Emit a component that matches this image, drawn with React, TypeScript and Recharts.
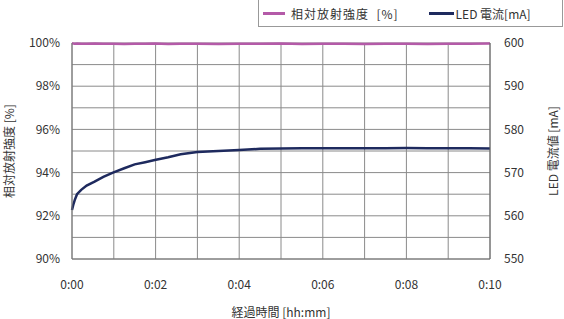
import React from 'react';
import { LineChart, Line, XAxis, YAxis, CartesianGrid } from 'recharts';

// elapsed time in minutes
const timesMin = [0, 0.03, 0.065, 0.12, 0.22, 0.35, 0.54, 0.75, 0.98, 1.25, 1.5, 1.75, 1.98, 2.3, 2.6, 3.0, 3.5, 4.0, 4.5, 5.0, 5.5, 6.0, 6.5, 7.0, 7.5, 8.0, 8.5, 9.0, 9.5, 10.0];
// relative radiant intensity [%]
const intensityPct = [99.99, 99.98, 99.97, 99.98, 99.96, 99.97, 99.98, 99.96, 99.97, 99.95, 99.97, 99.96, 99.98, 99.95, 99.97, 99.96, 99.95, 99.97, 99.96, 99.98, 99.95, 99.96, 99.97, 99.95, 99.96, 99.97, 99.95, 99.96, 99.97, 99.98];
// LED current [mA]
const currentMA = [561.35, 562.5, 563.65, 565.0, 566.0, 567.0, 567.9, 569.0, 570.0, 571.0, 571.9, 572.4, 572.9, 573.55, 574.25, 574.75, 575.0, 575.25, 575.5, 575.6, 575.62, 575.65, 575.63, 575.66, 575.65, 575.67, 575.64, 575.66, 575.65, 575.6];

const leftTicks = [90, 91, 92, 93, 94, 95, 96, 97, 98, 99, 100];
const rightTicks = [550, 560, 570, 580, 590, 600];
const xTicks = [0, 1, 2, 3, 4, 5, 6, 7, 8, 9, 10];

const seriesIntensity = '相対放射強度 [%]';
const seriesCurrent = 'LED 電流[mA]';

const data = timesMin.map((t, i) => ({ t, intensity: intensityPct[i], current: currentMA[i] }));

const FONT = '"Noto Sans CJK JP", "Noto Sans", sans-serif';
const PINK = '#b45aa8';
const NAVY = '#1e2a5e';
const TXT = '#333333';

const fmtX = (v: number) => (v % 2 === 0 ? `0:${String(v).padStart(2, '0')}` : '');
const fmtL = (v: number) => (v % 2 === 0 ? `${v}%` : '');

const LegendBox = () => (
  <div style={{ position: 'absolute', left: 258, top: 0, width: 305, height: 27, border: '1px solid #999', borderTop: 'none', boxSizing: 'border-box', display: 'flex', alignItems: 'center', fontFamily: FONT, fontSize: 12, color: TXT, whiteSpace: 'pre' }}>
    <span style={{ display: 'inline-block', width: 22, height: 3, background: PINK, marginLeft: 4, marginRight: 6 }} />
    <span style={{ letterSpacing: 1 }}>{'相対放射強度  [%]'}</span>
    <span style={{ display: 'inline-block', width: 25, height: 3, background: NAVY, marginLeft: 30, marginRight: 2 }} />
    <span>{seriesCurrent}</span>
  </div>
);

export default function App() {
  return (
    <div style={{ position: 'absolute', left: 0, top: 0, width: 564, height: 319, background: '#fff' }}>
      <LineChart width={564} height={319} data={data} margin={{ top: 43, right: 0, bottom: 0, left: 0 }}>
        <CartesianGrid stroke="#8a8a8a" strokeWidth={1} yAxisId="left" />
        <XAxis
          dataKey="t"
          type="number"
          domain={[0, 10]}
          ticks={xTicks}
          tickFormatter={fmtX}
          tickLine={false}
          tickSize={0}
          tickMargin={21}
          height={60}
          axisLine={{ stroke: '#777' }}
          tick={{ fill: TXT, fontSize: 12, fontFamily: FONT }}
          label={{ value: '経過時間 [hh:mm]', position: 'insideBottom', offset: 2, fill: TXT, fontSize: 12, fontFamily: FONT }}
        />
        <YAxis
          yAxisId="left"
          domain={[90, 100]}
          ticks={leftTicks}
          tickFormatter={fmtL}
          width={72}
          tickLine={false}
          tickSize={0}
          tickMargin={12}
          axisLine={{ stroke: '#777' }}
          tick={{ fill: TXT, fontSize: 12, fontFamily: FONT }}
          label={{ value: seriesIntensity, angle: -90, position: 'insideLeft', offset: 10, fill: TXT, fontSize: 12, fontFamily: FONT, style: { textAnchor: 'middle' } }}
        />
        <YAxis
          yAxisId="right"
          orientation="right"
          domain={[550, 600]}
          ticks={rightTicks}
          width={74}
          tickLine={false}
          tickSize={0}
          tickMargin={14}
          axisLine={{ stroke: '#666' }}
          tick={{ fill: TXT, fontSize: 12, fontFamily: FONT }}
          label={{ value: 'LED 電流値 [mA]', angle: -90, position: 'insideRight', offset: 10, fill: TXT, fontSize: 12, fontFamily: FONT, style: { textAnchor: 'middle' } }}
        />
        <Line yAxisId="left" type="linear" dataKey="intensity" name={seriesIntensity} stroke={PINK} strokeWidth={2.5} dot={false} isAnimationActive={false} />
        <Line yAxisId="right" type="linear" dataKey="current" name={seriesCurrent} stroke={NAVY} strokeWidth={2.5} dot={false} isAnimationActive={false} />
      </LineChart>
      <LegendBox />
    </div>
  );
}
